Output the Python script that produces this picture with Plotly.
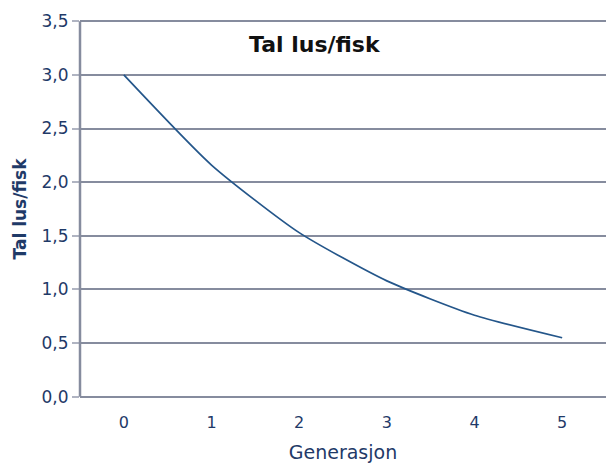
import plotly.graph_objects as go

# Lice per fish over generations
generasjon = ["0", "1", "2", "3", "4", "5"]
lus_per_fisk = [3.0, 2.16, 1.53, 1.08, 0.76, 0.55]

y_ticks = [0.0, 0.5, 1.0, 1.5, 2.0, 2.5, 3.0, 3.5]
y_min, y_max = y_ticks[0], y_ticks[-1]

navy = "#1f3a68"
grid = "#868c9e"
font = "DejaVu Sans, Verdana, sans-serif"

fig = go.Figure()
fig.add_trace(go.Scatter(
    x=generasjon,
    y=lus_per_fisk,
    mode="lines",
    line=dict(color="#24568a", width=1.7, shape="spline", smoothing=0.6),
    showlegend=False,
))

# vertical value axis line, running from the lowest to the highest gridline
fig.add_shape(
    type="line", xref="paper", yref="y",
    x0=0, x1=0, y0=y_min, y1=y_max,
    line=dict(color=grid, width=2.5),
    layer="above",
)

fig.update_layout(
    width=606,
    height=463,
    margin=dict(l=80, r=0, t=18, b=63),
    paper_bgcolor="white",
    plot_bgcolor="white",
    separators=",.",
    font=dict(family=font, color=navy, size=16),
    annotations=[dict(
        text="<b>Tal lus/fisk</b>",
        xref="paper", yref="paper",
        x=0.447, y=0.93,
        xanchor="center", yanchor="middle",
        showarrow=False,
        font=dict(family=font, size=22, color="#111111"),
    )],
)

fig.update_xaxes(
    type="category",
    range=[-0.5, 5.5],
    showgrid=False,
    showline=False,
    ticks="",
    ticklabelstandoff=11,
    tickfont=dict(size=16, color=navy),
    title=dict(text="Generasjon", font=dict(size=19, color=navy), standoff=16),
)

# padding beyond 0 and 3,5 keeps both end gridlines visible
fig.update_yaxes(
    range=[y_min - 0.03, y_max + 0.03],
    tickvals=y_ticks,
    tickformat=".1f",
    showgrid=True,
    gridcolor=grid,
    gridwidth=2,
    zeroline=False,
    showline=False,
    ticks="outside",
    ticklen=7,
    tickcolor="#b0b4c2",
    tickwidth=2,
    tickfont=dict(size=17, color=navy),
    title=dict(text="<b>Tal lus/fisk</b>", font=dict(size=17, color=navy), standoff=10),
)

fig.write_html("out.html")
